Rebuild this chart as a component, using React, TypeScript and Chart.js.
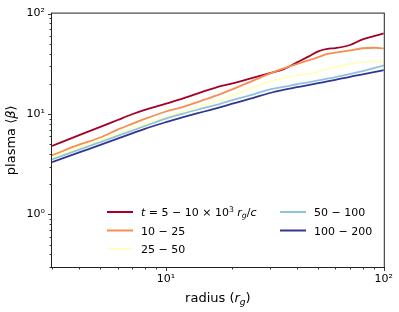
import { useEffect, useRef } from "react";
import { Chart, registerables } from "chart.js";
Chart.register(...registerables);

// radius in r_g
const radius = [3, 4, 5, 6, 7, 8, 10, 12, 15, 18, 20, 25, 30, 35, 40, 45, 50, 55, 60, 70, 80, 90, 100];
// plasma beta per time window
const beta_5_10 = [4.81, 6.16, 7.46, 8.72, 9.95, 11.0, 12.7, 14.3, 16.9, 19.1, 20.1, 22.9, 25.6, 28.2, 32.7, 37.3, 42.1, 44.5, 45.4, 48.7, 55.5, 59.6, 63.5];
const beta_10_25 = [3.88, 4.95, 5.84, 7.0, 7.98, 8.94, 10.6, 11.8, 13.9, 16.0, 17.5, 21.4, 25.3, 28.6, 31.5, 34.2, 36.8, 39.7, 40.8, 43.0, 45.2, 45.7, 45.0];
const beta_25_50 = [3.70, 4.64, 5.53, 6.36, 7.19, 8.01, 9.4, 10.6, 12.3, 13.9, 15.2, 18.3, 21.0, 23.0, 24.2, 25.1, 26.2, 28.0, 29.4, 31.5, 33.0, 33.2, 32.5];
const beta_50_100 = [3.54, 4.43, 5.26, 6.05, 6.83, 7.6, 9.0, 10.1, 11.5, 12.8, 13.7, 15.6, 17.6, 18.7, 19.8, 20.7, 21.6, 22.5, 23.3, 25.1, 26.8, 28.7, 30.5];
const beta_100_200 = [3.32, 4.15, 4.93, 5.68, 6.41, 7.13, 8.3, 9.3, 10.6, 11.8, 12.6, 14.4, 16.2, 17.5, 18.5, 19.4, 20.3, 21.1, 21.9, 23.5, 24.8, 26.1, 27.4];

const seriesLabels = ["t = 5 − 10 × 10³ r_g/c", "10 − 25", "25 − 50", "50 − 100", "100 − 200"];
const seriesColors = ["#a50026", "#f88d52", "#ffffbf", "#8fc3dd", "#313695"];
const series = [beta_5_10, beta_10_25, beta_25_50, beta_50_100, beta_100_200];

const xMajorTicks = [10, 100];
const xMinorTicks = [3, 4, 5, 6, 7, 8, 9, 20, 30, 40, 50, 60, 70, 80, 90];
const yMajorTicks = [1, 10, 100];
const yMinorTicks = [0.3, 0.4, 0.5, 0.6, 0.7, 0.8, 0.9, 2, 3, 4, 5, 6, 7, 8, 9, 20, 30, 40, 50, 60, 70, 80, 90];

const FONT = '"DejaVu Sans"';
const SUP: Record<string, string> = { "0": "⁰", "1": "¹", "2": "²", "3": "³", "-": "⁻" };
const pow10Label = (v: number) =>
  "10" + String(Math.round(Math.log10(v))).split("").map((c) => SUP[c] || c).join("");

type Seg = { t: string; it?: boolean; sub?: boolean; sup?: boolean };

function drawRich(ctx: CanvasRenderingContext2D, segs: Seg[], x: number, y: number, size: number, align: "left" | "center") {
  const fontFor = (s: Seg) => `${s.it ? "italic " : ""}${s.sub || s.sup ? size * 0.7 : size}px ${FONT}`;
  const widths = segs.map((s) => {
    ctx.font = fontFor(s);
    return ctx.measureText(s.t).width;
  });
  const total = widths.reduce((a, b) => a + b, 0);
  let cx = align === "center" ? x - total / 2 : x;
  ctx.textBaseline = "alphabetic";
  ctx.textAlign = "left";
  segs.forEach((s, i) => {
    ctx.font = fontFor(s);
    const dy = s.sub ? size * 0.2 : s.sup ? -size * 0.4 : 0;
    ctx.fillText(s.t, cx, y + dy);
    cx += widths[i];
  });
}

const legendSegs: Seg[][] = [
  [{ t: "t", it: true }, { t: " = 5 − 10 × 10" }, { t: "3", sup: true }, { t: " " }, { t: "r", it: true }, { t: "g", it: true, sub: true }, { t: "/" }, { t: "c", it: true }],
  [{ t: seriesLabels[1] }],
  [{ t: seriesLabels[2] }],
  [{ t: seriesLabels[3] }],
  [{ t: seriesLabels[4] }],
];

const decorPlugin = {
  id: "decor",
  afterDraw(chart: any) {
    const ctx: CanvasRenderingContext2D = chart.ctx;
    const { left, right, top, bottom } = chart.chartArea;
    const xs = chart.scales.x;
    const ys = chart.scales.y;
    ctx.save();
    // frame
    ctx.strokeStyle = "#222";
    ctx.lineWidth = 1;
    ctx.strokeRect(left - 0.5, top - 0.5, right - left + 1, bottom - top + 1);
    // ticks
    ctx.lineWidth = 0.9;
    ctx.strokeStyle = "#222";
    const tick = (x1: number, y1: number, x2: number, y2: number) => {
      ctx.beginPath();
      ctx.moveTo(x1, y1);
      ctx.lineTo(x2, y2);
      ctx.stroke();
    };
    xMajorTicks.forEach((v) => { const p = Math.round(xs.getPixelForValue(v)) + 0.5; tick(p, bottom, p, bottom + 4); });
    xMinorTicks.forEach((v) => { const p = Math.round(xs.getPixelForValue(v)) + 0.5; tick(p, bottom, p, bottom + 2.5); });
    yMajorTicks.forEach((v) => { const p = Math.round(ys.getPixelForValue(v)) + 0.5; tick(left, p, left - 4, p); });
    yMinorTicks.forEach((v) => { const p = Math.round(ys.getPixelForValue(v)) + 0.5; tick(left, p, left - 2.5, p); });

    // axis titles
    ctx.fillStyle = "#000";
    drawRich(ctx, [{ t: "radius (" }, { t: "r", it: true }, { t: "g", it: true, sub: true }, { t: ")" }], (left + right) / 2, 302, 13, "center");
    ctx.save();
    ctx.translate(15, (top + bottom) / 2);
    ctx.rotate(-Math.PI / 2);
    drawRich(ctx, [{ t: "plasma ⟨" }, { t: "β", it: true }, { t: "⟩" }], 0, 0, 13, "center");
    ctx.restore();

    // legend
    const legendPos = [
      { x: 107, y: 212 },
      { x: 107, y: 230.5 },
      { x: 107, y: 249 },
      { x: 280, y: 212 },
      { x: 280, y: 230.5 },
    ];
    legendPos.forEach((p, i) => {
      ctx.strokeStyle = seriesColors[i];
      ctx.lineWidth = 2;
      tick(p.x, p.y, p.x + 26, p.y);
      ctx.fillStyle = "#000";
      drawRich(ctx, legendSegs[i], p.x + 34, p.y + 4, 11, "left");
    });
    ctx.restore();
  },
};

export default function App() {
  const ref = useRef<HTMLCanvasElement>(null);
  useEffect(() => {
    const canvas = ref.current!;
    const chart = new Chart(canvas, {
      type: "line",
      data: {
        datasets: series.map((vals, i) => ({
          label: seriesLabels[i],
          data: radius.map((r, j) => ({ x: r, y: vals[j] })),
          borderColor: seriesColors[i],
          backgroundColor: seriesColors[i],
          borderWidth: 1.8,
          pointRadius: 0,
          fill: false,
          cubicInterpolationMode: "monotone" as const,
          order: series.length - 1 - i,
        })),
      },
      options: {
        responsive: false,
        animation: false,
        devicePixelRatio: 1,
        layout: { padding: { left: 0, right: 13, top: 7, bottom: 0 } },
        plugins: { legend: { display: false }, tooltip: { enabled: false } },
        scales: {
          x: {
            type: "logarithmic",
            min: 3,
            max: 100,
            grid: { display: false, drawTicks: false },
            border: { display: false },
            afterBuildTicks: (s: any) => { s.ticks = xMajorTicks.map((v) => ({ value: v })); },
            afterFit: (s: any) => { s.height = 45; },
            ticks: {
              autoSkip: false,
              maxRotation: 0,
              padding: 6,
              color: "#000",
              font: { family: "DejaVu Sans", size: 11 },
              callback: (v: any) => pow10Label(Number(v)),
            },
          },
          y: {
            type: "logarithmic",
            min: 0.3,
            max: 100,
            grid: { display: false, drawTicks: false },
            border: { display: false },
            afterBuildTicks: (s: any) => { s.ticks = yMajorTicks.map((v) => ({ value: v })); },
            afterFit: (s: any) => { s.width = 52; },
            ticks: {
              autoSkip: false,
              padding: 7,
              color: "#000",
              font: { family: "DejaVu Sans", size: 11 },
              callback: (v: any) => pow10Label(Number(v)),
            },
          },
        },
      } as any,
      plugins: [decorPlugin],
    });
    return () => chart.destroy();
  }, []);
  return (
    <div style={{ position: "absolute", left: 0, top: 0, width: 399, height: 312, background: "#fff" }}>
      <canvas ref={ref} width={399} height={312} style={{ display: "block" }} />
    </div>
  );
}
